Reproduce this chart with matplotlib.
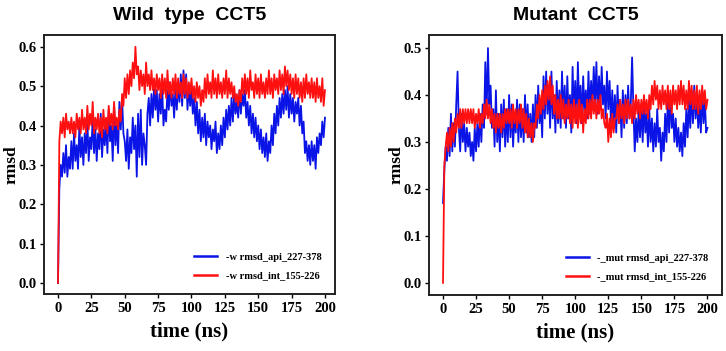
import numpy as np
import matplotlib.pyplot as plt

# time axis (ns), one sample per ns
time = np.arange(0, 201)

# wild type CCT5
wt_api = [0.00, 0.24, 0.30, 0.27, 0.33, 0.28, 0.35, 0.27, 0.32, 0.29,
          0.36, 0.29, 0.38, 0.31, 0.35, 0.29, 0.40, 0.32, 0.37, 0.30,
          0.38, 0.33, 0.41, 0.31, 0.37, 0.34, 0.42, 0.33, 0.39, 0.31,
          0.38, 0.34, 0.43, 0.32, 0.39, 0.35, 0.41, 0.33, 0.44, 0.36,
          0.40, 0.31, 0.45, 0.35, 0.41, 0.33, 0.46, 0.39, 0.47, 0.38,
          0.36, 0.31, 0.39, 0.29, 0.37, 0.33, 0.42, 0.34, 0.40, 0.27,
          0.43, 0.32, 0.44, 0.30, 0.38, 0.35, 0.30, 0.43, 0.47, 0.40,
          0.48, 0.42, 0.50, 0.44, 0.49, 0.41, 0.48, 0.43, 0.50, 0.40,
          0.44, 0.41, 0.49, 0.44, 0.51, 0.45, 0.48, 0.42, 0.50, 0.44,
          0.51, 0.46, 0.53, 0.45, 0.54, 0.47, 0.53, 0.44, 0.50, 0.45,
          0.49, 0.43, 0.47, 0.40, 0.46, 0.38, 0.44, 0.36, 0.42, 0.37,
          0.43, 0.35, 0.41, 0.37, 0.40, 0.34, 0.39, 0.36, 0.41, 0.33,
          0.38, 0.34, 0.40, 0.35, 0.42, 0.37, 0.44, 0.39, 0.45, 0.40,
          0.47, 0.41, 0.48, 0.43, 0.46, 0.42, 0.49, 0.43, 0.48, 0.45,
          0.49, 0.42, 0.46, 0.40, 0.45, 0.38, 0.43, 0.37, 0.42, 0.36,
          0.40, 0.34, 0.39, 0.33, 0.37, 0.32, 0.38, 0.31, 0.36, 0.33,
          0.40, 0.35, 0.43, 0.38, 0.45, 0.40, 0.47, 0.42, 0.48, 0.43,
          0.49, 0.44, 0.50, 0.42, 0.48, 0.43, 0.47, 0.41, 0.46, 0.43,
          0.47, 0.40, 0.45, 0.38, 0.41, 0.33, 0.36, 0.31, 0.35, 0.30,
          0.36, 0.31, 0.35, 0.29, 0.37, 0.33, 0.38, 0.35, 0.41, 0.37,
          0.42]

wt_int = [0.00, 0.36, 0.41, 0.38, 0.42, 0.37, 0.43, 0.39, 0.41, 0.38,
          0.42, 0.38, 0.41, 0.37, 0.43, 0.39, 0.42, 0.38, 0.44, 0.39,
          0.42, 0.38, 0.45, 0.39, 0.43, 0.40, 0.46, 0.38, 0.42, 0.39,
          0.43, 0.38, 0.42, 0.37, 0.44, 0.39, 0.42, 0.38, 0.45, 0.40,
          0.43, 0.39, 0.46, 0.40, 0.42, 0.39, 0.44, 0.41, 0.48, 0.45,
          0.52, 0.47, 0.53, 0.48, 0.54, 0.50, 0.56, 0.52, 0.60, 0.53,
          0.55, 0.49, 0.54, 0.50, 0.53, 0.48, 0.56, 0.50, 0.53, 0.49,
          0.54, 0.49, 0.52, 0.48, 0.53, 0.49, 0.52, 0.47, 0.53, 0.48,
          0.52, 0.47, 0.54, 0.48, 0.51, 0.47, 0.52, 0.48, 0.53, 0.47,
          0.52, 0.48, 0.51, 0.47, 0.53, 0.48, 0.52, 0.47, 0.51, 0.48,
          0.52, 0.47, 0.50, 0.46, 0.51, 0.47, 0.50, 0.45, 0.49, 0.46,
          0.52, 0.47, 0.53, 0.48, 0.51, 0.47, 0.54, 0.48, 0.52, 0.47,
          0.53, 0.48, 0.51, 0.47, 0.52, 0.48, 0.54, 0.47, 0.52, 0.48,
          0.51, 0.47, 0.50, 0.46, 0.48, 0.45, 0.49, 0.46, 0.52, 0.48,
          0.53, 0.48, 0.52, 0.47, 0.54, 0.49, 0.51, 0.47, 0.53, 0.48,
          0.52, 0.47, 0.53, 0.48, 0.51, 0.47, 0.52, 0.48, 0.54, 0.48,
          0.52, 0.47, 0.53, 0.49, 0.52, 0.48, 0.54, 0.49, 0.53, 0.48,
          0.55, 0.50, 0.54, 0.49, 0.53, 0.48, 0.52, 0.47, 0.53, 0.48,
          0.52, 0.47, 0.51, 0.46, 0.52, 0.47, 0.53, 0.48, 0.51, 0.47,
          0.52, 0.47, 0.51, 0.46, 0.52, 0.47, 0.50, 0.46, 0.52, 0.45,
          0.49]

# mutant CCT5
mut_api = [0.17, 0.24, 0.29, 0.26, 0.33, 0.27, 0.36, 0.28, 0.34, 0.29,
           0.38, 0.45, 0.33, 0.28, 0.36, 0.30, 0.34, 0.28, 0.33, 0.29,
           0.32, 0.27, 0.30, 0.26, 0.33, 0.28, 0.34, 0.29, 0.36, 0.30,
           0.38, 0.33, 0.47, 0.36, 0.50, 0.38, 0.42, 0.33, 0.37, 0.29,
           0.41, 0.30, 0.36, 0.28, 0.38, 0.31, 0.39, 0.29, 0.37, 0.30,
           0.40, 0.31, 0.38, 0.29, 0.36, 0.32, 0.39, 0.30, 0.38, 0.31,
           0.37, 0.30, 0.40, 0.32, 0.38, 0.31, 0.36, 0.30, 0.38, 0.31,
           0.40, 0.33, 0.42, 0.34, 0.38, 0.31, 0.44, 0.35, 0.45, 0.36,
           0.42, 0.33, 0.45, 0.35, 0.40, 0.32, 0.43, 0.34, 0.41, 0.33,
           0.45, 0.35, 0.42, 0.33, 0.44, 0.35, 0.40, 0.32, 0.46, 0.36,
           0.43, 0.34, 0.47, 0.37, 0.42, 0.34, 0.44, 0.36, 0.41, 0.35,
           0.45, 0.36, 0.43, 0.37, 0.46, 0.38, 0.47, 0.36, 0.44, 0.37,
           0.46, 0.38, 0.42, 0.35, 0.45, 0.37, 0.43, 0.34, 0.41, 0.33,
           0.40, 0.32, 0.42, 0.34, 0.39, 0.31, 0.41, 0.33, 0.40, 0.34,
           0.42, 0.35, 0.38, 0.48, 0.37, 0.28, 0.35, 0.30, 0.37, 0.31,
           0.38, 0.30, 0.39, 0.32, 0.36, 0.29, 0.37, 0.30, 0.35, 0.28,
           0.34, 0.29, 0.37, 0.30, 0.33, 0.26, 0.32, 0.28, 0.36, 0.30,
           0.39, 0.32, 0.40, 0.33, 0.36, 0.30, 0.35, 0.29, 0.33, 0.28,
           0.32, 0.27, 0.34, 0.29, 0.37, 0.31, 0.39, 0.33, 0.41, 0.34,
           0.42, 0.35, 0.40, 0.33, 0.38, 0.32, 0.41, 0.34, 0.39, 0.32,
           0.33]

mut_int = [0.00, 0.25, 0.29, 0.32, 0.28, 0.33, 0.29, 0.34, 0.30, 0.35,
           0.32, 0.36, 0.33, 0.37, 0.33, 0.37, 0.34, 0.37, 0.34, 0.37,
           0.34, 0.37, 0.34, 0.37, 0.33, 0.36, 0.34, 0.37, 0.33, 0.36,
           0.34, 0.38, 0.35, 0.39, 0.35, 0.38, 0.34, 0.37, 0.33, 0.36,
           0.32, 0.36, 0.33, 0.36, 0.32, 0.36, 0.33, 0.37, 0.34, 0.37,
           0.34, 0.37, 0.33, 0.38, 0.34, 0.37, 0.33, 0.37, 0.34, 0.38,
           0.33, 0.37, 0.32, 0.36, 0.31, 0.35, 0.31, 0.34, 0.30, 0.34,
           0.33, 0.38, 0.35, 0.40, 0.36, 0.41, 0.37, 0.42, 0.38, 0.43,
           0.39, 0.44, 0.38, 0.42, 0.36, 0.40, 0.35, 0.39, 0.35, 0.40,
           0.35, 0.39, 0.34, 0.38, 0.35, 0.39, 0.34, 0.38, 0.33, 0.39,
           0.34, 0.38, 0.33, 0.39, 0.34, 0.38, 0.32, 0.37, 0.34, 0.39,
           0.35, 0.39, 0.35, 0.40, 0.36, 0.39, 0.35, 0.39, 0.36, 0.40,
           0.35, 0.37, 0.34, 0.33, 0.36, 0.30, 0.35, 0.31, 0.36, 0.32,
           0.35, 0.35, 0.38, 0.34, 0.39, 0.35, 0.38, 0.34, 0.39, 0.35,
           0.39, 0.35, 0.38, 0.34, 0.39, 0.35, 0.40, 0.36, 0.39, 0.35,
           0.39, 0.36, 0.40, 0.36, 0.39, 0.35, 0.40, 0.37, 0.42, 0.38,
           0.43, 0.39, 0.42, 0.37, 0.41, 0.37, 0.42, 0.38, 0.41, 0.37,
           0.42, 0.37, 0.41, 0.36, 0.42, 0.38, 0.41, 0.37, 0.42, 0.38,
           0.43, 0.38, 0.42, 0.37, 0.41, 0.37, 0.43, 0.38, 0.42, 0.37,
           0.41, 0.37, 0.42, 0.36, 0.41, 0.37, 0.42, 0.38, 0.41, 0.37,
           0.39]

titles = ["Wild  type  CCT5", "Mutant  CCT5"]
labels_wt = ["-w rmsd_api_227-378", "-w rmsd_int_155-226"]
labels_mut = ["-_mut rmsd_api_227-378", "-_mut rmsd_int_155-226"]

serif = ["Liberation Serif", "DejaVu Serif"]
sans = ["Liberation Sans", "DejaVu Sans"]

fig = plt.figure(figsize=(7.26, 3.51), dpi=100)
ax1 = fig.add_axes([0.0606, 0.1624, 0.4008, 0.738])
ax2 = fig.add_axes([0.5909, 0.1595, 0.4036, 0.741])

panels = [
    (ax1, wt_api, wt_int, labels_wt, titles[0], (-0.028, 0.63), np.arange(0, 0.61, 0.1), (-10.5, 207.5)),
    (ax2, mut_api, mut_int, labels_mut, titles[1], (-0.026, 0.528), np.arange(0, 0.51, 0.1), (-10.6, 211)),
]

for ax, api, intr, labs, title, ylim, yticks, xlim in panels:
    ax.plot(time, api, color="#0a14e6", lw=1.3, label=labs[0])
    ax.plot(time, intr, color="#ff1010", lw=1.3, label=labs[1])
    ax.set_xlim(*xlim)
    ax.set_ylim(*ylim)
    ax.set_xticks(np.arange(0, 201, 25))
    ax.set_yticks(yticks)
    ax.set_yticklabels(["%.1f" % v for v in yticks])
    for lab in ax.get_xticklabels() + ax.get_yticklabels():
        lab.set_family(serif)
        lab.set_fontweight("bold")
        lab.set_fontsize(10.5)
    ax.tick_params(direction="out", length=3, width=1, pad=2.5)
    for sp in ax.spines.values():
        sp.set_linewidth(1.4)
        sp.set_color("#222222")
    ax.set_xlabel("time (ns)", family=serif, fontweight="bold", fontsize=15, labelpad=5)
    ax.set_ylabel("rmsd", family=serif, fontweight="bold", fontsize=12.5)
    ax.yaxis.set_label_coords(-0.084, 0.5)
    ax.set_title(title, family=sans, fontweight="bold", fontsize=14, pad=11)
    leg = ax.legend(loc="lower right", frameon=False, handlelength=2.2,
                    prop={"family": serif, "weight": "bold", "size": 7.5},
                    borderaxespad=0.9, labelspacing=0.9)
    for h in leg.get_lines():
        h.set_linewidth(1.8)

fig.savefig("out.png", dpi=100)
